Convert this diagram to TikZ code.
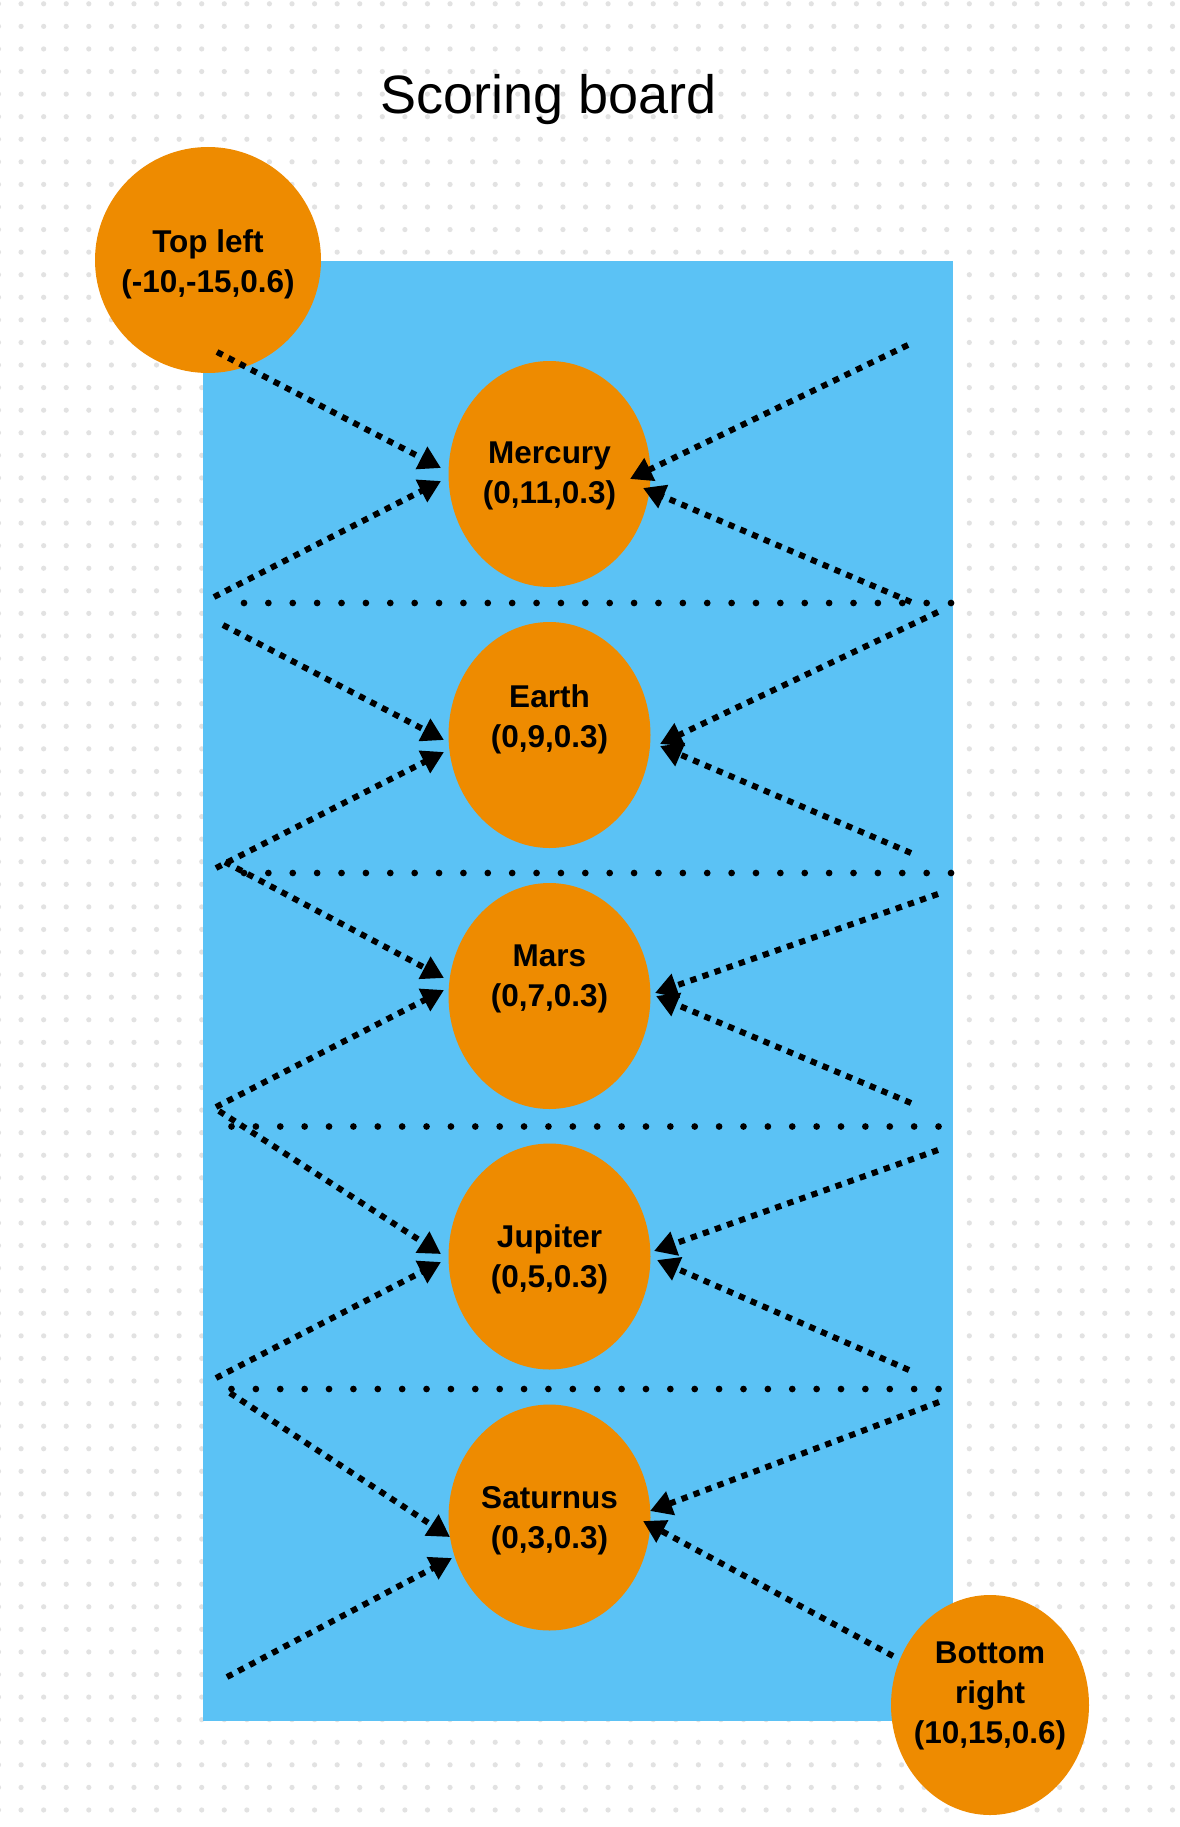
\documentclass[tikz,border=0pt]{standalone}
\usepackage{fontspec}
\setmainfont{Liberation Sans}
\usetikzlibrary{shapes.geometric,arrows.meta,calc}
\definecolor{boardblue}{RGB}{91,194,245}
\definecolor{planetorange}{RGB}{238,139,0}
\definecolor{gridgray}{RGB}{226,226,226}
\tikzset{
  planetdisc/.style={ellipse, fill=planetorange, minimum width=202pt, minimum height=226pt, inner sep=0pt},
  cornerdisc/.style={ellipse, fill=planetorange, inner sep=0pt},
  labtext/.style={align=center, font=\bfseries\fontsize{31.5}{40}\selectfont, inner sep=0pt},
  arrowlink/.style={line width=6pt, dash pattern=on 6.3pt off 6.5pt, -{Triangle[length=22pt,width=24pt]}},
  hdivider/.style={line width=6.7pt, dash pattern=on 0pt off 24.38pt, line cap=round},
  gridrow/.style={gridgray, line width=5.2pt, line cap=round, dash pattern=on 0pt off 22.577pt}
}
\begin{document}
\begin{tikzpicture}[x=1pt,y=-1pt]
\useasboundingbox (0,0) rectangle (1179,1827);
\fill[white] (0,0) rectangle (1179,1827);
% dot grid
\foreach \j in {0,...,80}{
  \draw[gridrow] (-1.5,{3.8+22.577*\j}) -- (1185,{3.8+22.577*\j});
}
% board
\fill[boardblue] (203,261) rectangle (953,1721);
% title
\node[anchor=base, font=\fontsize{54}{60}\selectfont, inner sep=0pt] (title) at (549,114) {Scoring board};
% corner discs
\node[cornerdisc, minimum width=226pt, minimum height=226pt] (tl) at (208,260) {};
\node[cornerdisc, minimum width=198pt, minimum height=220pt] (br) at (990,1705) {};
% planets
\node[planetdisc] (mer) at (549.5,474) {};
\node[planetdisc] (ear) at (549.5,735) {};
\node[planetdisc] (mar) at (549.5,996) {};
\node[planetdisc] (jup) at (549.5,1256.5) {};
\node[planetdisc] (sat) at (549.5,1517.5) {};
% texts
\node[labtext] (tl-t) at (208,264) {Top left\\(-10,-15,0.6)};
\node[labtext] (br-t) at (990,1696) {Bottom\\right\\(10,15,0.6)};
\node[labtext] (mer-t) at (549.5,476) {Mercury\\(0,11,0.3)};
\node[labtext] (ear-t) at (549.5,719) {Earth\\(0,9,0.3)};
\node[labtext] (mar-t) at (549.5,979) {Mars\\(0,7,0.3)};
\node[labtext] (jup-t) at (549.5,1259.5) {Jupiter\\(0,5,0.3)};
\node[labtext] (sat-t) at (549.5,1520.5) {Saturnus\\(0,3,0.3)};
% free ends
\coordinate (a1s) at ($(tl)+(9,92)$);
\coordinate (a2s) at (214,597);
\coordinate (a3s) at (908,345);
\coordinate (a4s) at (911,602);
\coordinate (a5s) at (223,625);
\coordinate (a6s) at (216,868);
\coordinate (a7s) at (938,612);
\coordinate (a8s) at (911,853);
\coordinate (a9s) at (225,862);
\coordinate (a10s) at (216,1107);
\coordinate (a11s) at (938,894);
\coordinate (a12s) at (911,1103);
\coordinate (a13s) at (938,1150);
\coordinate (a14s) at (909,1370);
\coordinate (a15s) at (939,1402);
\coordinate (a16s) at (219,1111);
\coordinate (a17s) at (216,1378);
\coordinate (a18s) at (230,1393);
\coordinate (a19s) at (227,1677);
\coordinate (a20s) at ($(br)+(-97,-49)$);
\coordinate (h1a) at (244,603);   \coordinate (h1b) at (952.5,603);
\coordinate (h2a) at (244,873);   \coordinate (h2b) at (952.5,873);
\coordinate (h3a) at (231.5,1126.5); \coordinate (h3b) at (940.5,1126.5);
\coordinate (h4a) at (231.5,1389); \coordinate (h4b) at (940.5,1389);
% dividers
\draw[hdivider] (h1a) -- (h1b);
\draw[hdivider] (h2a) -- (h2b);
\draw[hdivider] (h3a) -- (h3b);
\draw[hdivider] (h4a) -- (h4b);
% Mercury
\draw[arrowlink] (a1s) -- ($(mer)+(-108.5,-6)$);
\draw[arrowlink] (a2s) -- ($(mer)+(-108.5,7)$);
\draw[arrowlink] (a3s) -- ($(mer)+(80.5,5)$);
\draw[arrowlink] (a4s) -- ($(mer)+(93.5,14)$);
% Earth
\draw[arrowlink] (a5s) -- ($(ear)+(-105.5,5)$);
\draw[arrowlink] (a6s) -- ($(ear)+(-105.5,17)$);
\draw[arrowlink] (a7s) -- ($(ear)+(110.5,9)$);
\draw[arrowlink] (a8s) -- ($(ear)+(110.5,11)$);
% Mars
\draw[arrowlink] (a9s) -- ($(mar)+(-105.5,-18)$);
\draw[arrowlink] (a10s) -- ($(mar)+(-105.5,-6)$);
\draw[arrowlink] (a11s) -- ($(mar)+(105.5,-3)$);
\draw[arrowlink] (a12s) -- ($(mar)+(106.5,0)$);
% Jupiter
\draw[arrowlink] (a16s) -- ($(jup)+(-108.5,-2.5)$);
\draw[arrowlink] (a17s) -- ($(jup)+(-108.5,5.5)$);
\draw[arrowlink] (a13s) -- ($(jup)+(104.5,-5.5)$);
\draw[arrowlink] (a14s) -- ($(jup)+(107.5,3.5)$);
% Saturnus
\draw[arrowlink] (a18s) -- ($(sat)+(-99.5,19.5)$);
\draw[arrowlink] (a19s) -- ($(sat)+(-97.5,40.5)$);
\draw[arrowlink] (a15s) -- ($(sat)+(100.5,-6.5)$);
\draw[arrowlink] (a20s) -- ($(sat)+(93.5,3.5)$);
\end{tikzpicture}
\end{document}
